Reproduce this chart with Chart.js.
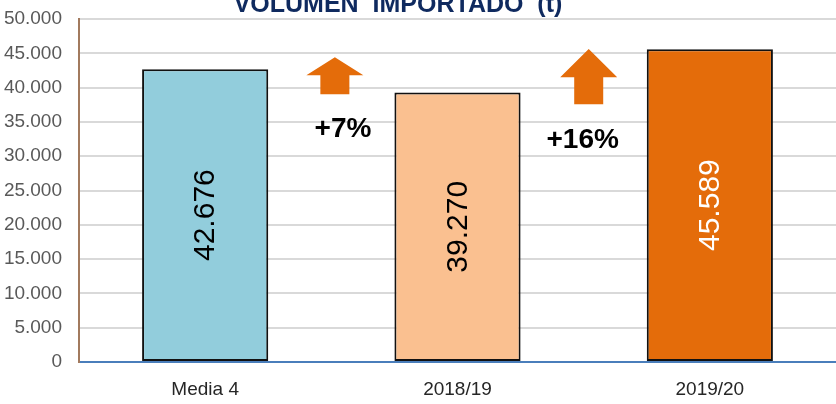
<!DOCTYPE html>
<html>
<head>
<meta charset="utf-8">
<script src="https://cdn.jsdelivr.net/npm/chart.js@4.4.0/dist/chart.umd.min.js"></script>
<style>
html,body{margin:0;padding:0;background:#fff;}
#wrap{width:836px;height:404px;position:relative;}
</style>
</head>
<body>
<div id="wrap"><canvas id="c" width="836" height="404"></canvas></div>
<script>
// ---- data ----
const categories = ['Media 4', '2018/19', '2019/20'];
const volumes = [42676, 39270, 45589];
const barColors = ['#92CDDC', '#FAC090', '#E46C0A'];
const labelColors = ['#000000', '#000000', '#FFFFFF'];
const changeLabels = ['+7%', '+16%'];
const titleText = 'VOLUMEN  IMPORTADO  (t)';

// annotation anchors in data space (x: category index, y: value)
const arrowX = [0.514, 1.52];
const arrowTip = [44440, 45610];
const arrowHeadBase = [41810, 41520];
const arrowBottom = [39040, 37570];
const changeX = [0.546, 1.496];
const changeY = [33920, 32310];

const fmt = v => v.toString().replace(/\B(?=(\d{3})+(?!\d))/g, '.');

const overlay = {
  id: 'overlay',
  afterDatasetsDraw(chart) {
    const ctx = chart.ctx;
    const xs = chart.scales.x, ys = chart.scales.y;
    const meta = chart.getDatasetMeta(0);
    meta.data.forEach((bar, i) => {
      const cx = bar.x;
      const cy = (bar.y + bar.base) / 2;
      ctx.save();
      ctx.translate(cx, cy);
      ctx.rotate(-Math.PI / 2);
      ctx.font = '30px "Liberation Sans", Arial, sans-serif';
      ctx.fillStyle = labelColors[i];
      ctx.textAlign = 'center';
      ctx.textBaseline = 'middle';
      ctx.fillText(fmt(volumes[i]), 0, 1);
      ctx.restore();
    });
    ctx.save();
    ctx.fillStyle = '#E46C0A';
    for (let i = 0; i < arrowX.length; i++) {
      const cx = xs.getPixelForValue(arrowX[i]);
      const tip = ys.getPixelForValue(arrowTip[i]);
      const hb = ys.getPixelForValue(arrowHeadBase[i]);
      const bot = ys.getPixelForValue(arrowBottom[i]);
      const hw = 28.5, sw = 14.5;
      ctx.beginPath();
      ctx.moveTo(cx, tip);
      ctx.lineTo(cx + hw, hb);
      ctx.lineTo(cx + sw, hb);
      ctx.lineTo(cx + sw, bot);
      ctx.lineTo(cx - sw, bot);
      ctx.lineTo(cx - sw, hb);
      ctx.lineTo(cx - hw, hb);
      ctx.closePath();
      ctx.fill();
    }
    ctx.restore();
    ctx.save();
    ctx.font = 'bold 28px "Liberation Sans", Arial, sans-serif';
    ctx.fillStyle = '#000';
    ctx.textAlign = 'center';
    ctx.textBaseline = 'middle';
    for (let i = 0; i < changeLabels.length; i++) {
      ctx.fillText(changeLabels[i], xs.getPixelForValue(changeX[i]), ys.getPixelForValue(changeY[i]));
    }
    ctx.restore();
    ctx.save();
    ctx.font = 'bold 25px "Liberation Sans", Arial, sans-serif';
    ctx.fillStyle = '#0F2A5F';
    ctx.textAlign = 'center';
    ctx.textBaseline = 'alphabetic';
    ctx.fillText(titleText, 398, 12);
    ctx.restore();
  }
};

new Chart(document.getElementById('c'), {
  type: 'bar',
  data: {
    labels: categories,
    datasets: [{
      data: volumes,
      backgroundColor: barColors,
      borderColor: '#111',
      borderWidth: 2,
      borderSkipped: false,
      barPercentage: 0.5,
      categoryPercentage: 1.0
    }]
  },
  options: {
    responsive: false,
    animation: false,
    devicePixelRatio: 1,
    layout: { padding: { top: 19, right: 0, bottom: 0, left: 0 } },
    plugins: { legend: { display: false }, tooltip: { enabled: false }, title: { display: false } },
    scales: {
      x: {
        grid: { display: false, drawTicks: false },
        border: { display: true, color: '#4A7EBB', width: 2 },
        ticks: { color: '#262626', font: { family: '"Liberation Sans", Arial, sans-serif', size: 19 }, padding: 16 },
        afterFit(s) { s.height = 42; s.paddingLeft = 0; s.paddingRight = 0; }
      },
      y: {
        min: 0, max: 50000,
        grid: { color: '#D9D9D9', lineWidth: 2, drawTicks: false },
        border: { display: true, color: '#A27A5E', width: 2 },
        ticks: {
          stepSize: 5000,
          color: '#595959',
          font: { family: '"Liberation Sans", Arial, sans-serif', size: 19 },
          padding: 17,
          callback: v => fmt(v)
        },
        afterFit(s) { s.width = 79; s.paddingTop = 0; s.paddingBottom = 0; }
      }
    }
  },
  plugins: [overlay]
});
</script>
</body>
</html>
